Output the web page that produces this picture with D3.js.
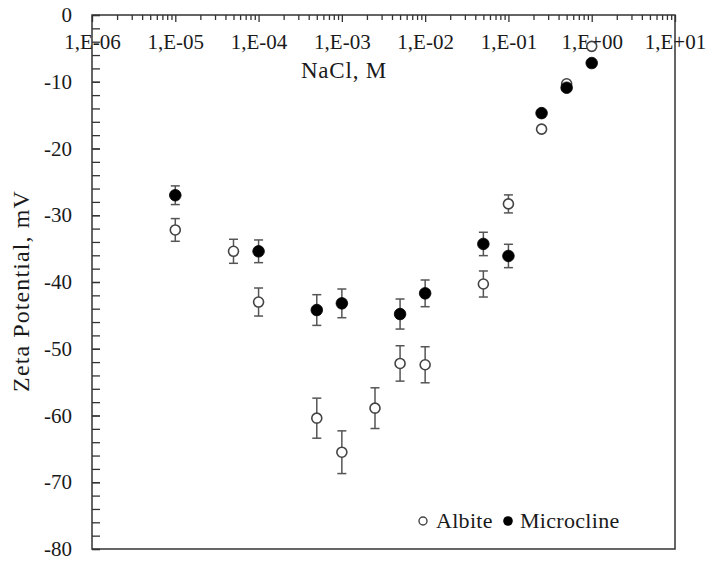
<!DOCTYPE html>
<html><head><meta charset="utf-8">
<script src="https://cdn.jsdelivr.net/npm/d3@7"></script>
<style>body{margin:0;background:#fff}svg{display:block}text{font-family:"Liberation Serif",serif;fill:#1a1a1a}</style>
</head><body><svg id="c" width="706" height="562"></svg>
<script>
// NaCl concentrations (M)
const albiteConc = [1e-5, 5e-5, 1e-4, 5e-4, 1e-3, 2.5e-3, 5e-3, 1e-2, 5e-2, 1e-1, 0.25, 0.5, 1.0];
const albiteZeta = [-32.2, -35.4, -43.0, -60.4, -65.5, -58.9, -52.2, -52.4, -40.3, -28.3, -17.1, -10.3, -4.7];
const albiteErr  = [1.7, 1.8, 2.1, 3.0, 3.2, 3.05, 2.65, 2.7, 1.95, 1.35, 0.4, 0.3, 0.3];
const microConc = [1e-5, 1e-4, 5e-4, 1e-3, 5e-3, 1e-2, 5e-2, 1e-1, 0.25, 0.5, 1.0];
const microZeta = [-27.0, -35.4, -44.2, -43.2, -44.8, -41.7, -34.3, -36.1, -14.7, -10.9, -7.2];
const microErr  = [1.4, 1.7, 2.3, 2.15, 2.25, 2.0, 1.75, 1.75, 0.4, 0.3, 0.3];
const xTickValues = [1e-6, 1e-5, 1e-4, 1e-3, 1e-2, 1e-1, 1e0, 1e1];
const yTickValues = [0, -10, -20, -30, -40, -50, -60, -70, -80];
const seriesNames = ["Albite", "Microcline"];

const svg = d3.select("#c");
const L = 92, R = 675, T = 15, B = 549;
const x = d3.scaleLog().domain([1e-6, 1e1]).range([L, R]);
const y = d3.scaleLinear().domain([0, -80]).range([T, B]);

function fmtExp(v){
  const e = Math.round(Math.log10(v));
  const s = e < 0 ? "-" : "+";
  const a = Math.abs(e);
  return "1,E" + s + (a < 10 ? "0" + a : a);
}

// minor x ticks
const minor = [];
for (let e = -6; e < 1; e++) for (let m = 2; m <= 9; m++) minor.push(m * Math.pow(10, e));
svg.append("g").attr("transform", `translate(0,${T})`)
  .call(d3.axisBottom(x).tickValues(minor).tickSize(5).tickFormat(""))
  .call(g => g.select(".domain").remove())
  .call(g => g.selectAll("line").attr("stroke", "#333").attr("stroke-width", 1.3));
// major x ticks + labels (top)
svg.append("g").attr("transform", `translate(0,${T})`)
  .call(d3.axisBottom(x).tickValues(xTickValues).tickSize(7).tickPadding(12).tickFormat(fmtExp))
  .call(g => g.select(".domain").remove())
  .call(g => g.selectAll("line").attr("stroke", "#333").attr("stroke-width", 1.3))
  .call(g => g.selectAll("text").attr("font-size", 21).attr("font-family", "Liberation Serif").attr("fill", "#1a1a1a"));

// y minor ticks
svg.append("g").attr("transform", `translate(${L},0)`)
  .call(d3.axisLeft(y).tickValues(d3.range(-80, 1, 2)).tickSize(-8).tickFormat(""))
  .call(g => g.select(".domain").remove())
  .call(g => g.selectAll("line").attr("stroke", "#333").attr("stroke-width", 1.3));
svg.append("g").attr("transform", `translate(${L},0)`)
  .call(d3.axisLeft(y).tickValues(yTickValues).tickSize(-8).tickPadding(20).tickFormat(d => d === 0 ? "0" : "-" + Math.abs(d)))
  .call(g => g.select(".domain").remove())
  .call(g => g.selectAll("line").attr("stroke", "#333").attr("stroke-width", 1.3))
  .call(g => g.selectAll("text").attr("font-size", 21).attr("font-family", "Liberation Serif").attr("fill", "#1a1a1a"));

// frame
svg.append("rect").attr("x", L).attr("y", T).attr("width", R - L).attr("height", B - T)
  .attr("fill", "none").attr("stroke", "#333").attr("stroke-width", 1.5);

// titles
svg.append("text").attr("x", 344).attr("y", 78).attr("text-anchor", "middle")
  .attr("font-size", 23).attr("letter-spacing", 0.8).text("NaCl, M");
svg.append("text").attr("transform", "translate(29,291) rotate(-90)").attr("text-anchor", "middle")
  .attr("font-size", 24).attr("letter-spacing", 1.1).text("Zeta Potential, mV");

function drawSeries(conc, zeta, err, filled){
  const g = svg.append("g");
  const data = conc.map((c, i) => ({c, z: zeta[i], e: err[i]}));
  const eb = g.selectAll(".eb").data(data).enter().append("g").attr("stroke", "#555").attr("stroke-width", 1.5);
  eb.append("line").attr("x1", d => x(d.c)).attr("x2", d => x(d.c)).attr("y1", d => y(d.z + d.e)).attr("y2", d => y(d.z - d.e));
  eb.append("line").attr("x1", d => x(d.c) - 4.5).attr("x2", d => x(d.c) + 4.5).attr("y1", d => y(d.z + d.e)).attr("y2", d => y(d.z + d.e));
  eb.append("line").attr("x1", d => x(d.c) - 4.5).attr("x2", d => x(d.c) + 4.5).attr("y1", d => y(d.z - d.e)).attr("y2", d => y(d.z - d.e));
  g.selectAll("circle").data(data).enter().append("circle")
    .attr("cx", d => x(d.c)).attr("cy", d => y(d.z))
    .attr("r", filled ? 5.8 : 5)
    .attr("fill", filled ? "#000" : "#fff")
    .attr("stroke", filled ? "#000" : "#444").attr("stroke-width", filled ? 0.8 : 1.6);
}
drawSeries(albiteConc, albiteZeta, albiteErr, false);
drawSeries(microConc, microZeta, microErr, true);

// legend
const lg = svg.append("g");
lg.append("circle").attr("cx", 423).attr("cy", 521).attr("r", 4).attr("fill", "#fff").attr("stroke", "#444").attr("stroke-width", 1.4);
lg.append("text").attr("x", 436).attr("y", 528).attr("font-size", 22).attr("letter-spacing", 0.3).text(seriesNames[0]);
lg.append("circle").attr("cx", 508).attr("cy", 521).attr("r", 4.8).attr("fill", "#000");
lg.append("text").attr("x", 520).attr("y", 528).attr("font-size", 22).attr("letter-spacing", 0.3).text(seriesNames[1]);
</script></body></html>
